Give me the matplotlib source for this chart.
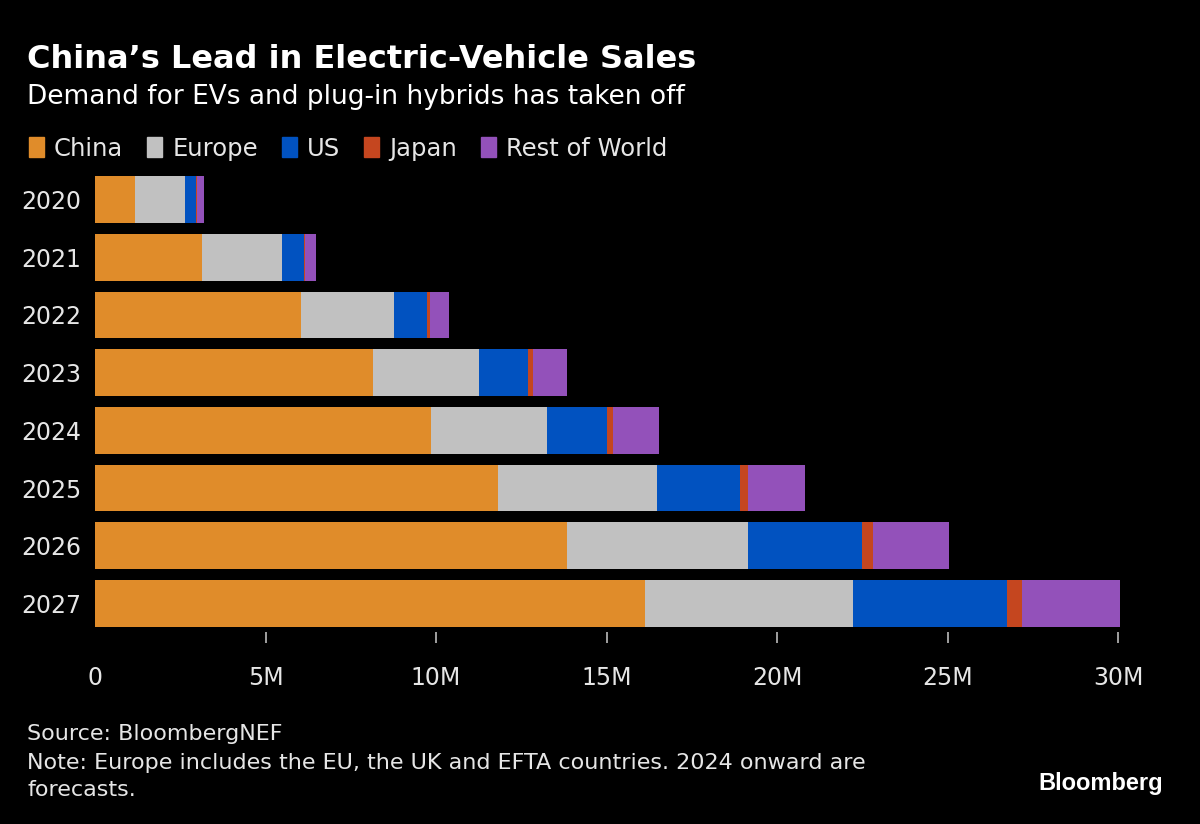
import matplotlib
matplotlib.use("Agg")
import matplotlib.pyplot as plt
from matplotlib.patches import Rectangle

# data (millions of vehicles)
years = ["2020", "2021", "2022", "2023", "2024", "2025", "2026", "2027"]
china = [1.17, 3.14, 6.04, 8.15, 9.85, 11.82, 13.84, 16.13]
europe = [1.47, 2.34, 2.73, 3.11, 3.40, 4.66, 5.31, 6.10]
us = [0.32, 0.65, 0.97, 1.44, 1.76, 2.43, 3.34, 4.51]
japan = [0.02, 0.03, 0.08, 0.14, 0.18, 0.24, 0.33, 0.44]
rest = [0.22, 0.32, 0.56, 1.00, 1.35, 1.67, 2.22, 2.88]

series = ["China", "Europe", "US", "Japan", "Rest of World"]
colors = ["#e08c2a", "#c1c1c1", "#0152c0", "#c5461f", "#9351ba"]
xticks = [0, 5, 10, 15, 20, 25, 30]
xlabels = ["0", "5M", "10M", "15M", "20M", "25M", "30M"]

plt.rcParams['font.family'] = ['DejaVu Sans']
fg = "#e6e6e6"

fig = plt.figure(figsize=(12, 8.24), dpi=100, facecolor="black")
W, H = 1200, 824
ax = fig.add_axes([95 / W, 1 - 632.4 / H, (1125 - 95) / W, (632.4 - 170.6) / H])
ax.set_facecolor("black")

y = list(range(len(years)))
left = [0] * len(years)
for name, vals, c in zip(series, [china, europe, us, japan, rest], colors):
    ax.barh(y, vals, left=left, height=0.81, color=c, label=name)
    left = [a + b for a, b in zip(left, vals)]

ax.set_xlim(0, 30 * (1125 - 95) / 1023)
ax.set_ylim(len(years) - 0.5, -0.5)
ax.set_yticks(y)
ax.set_yticklabels(years)
ax.set_xticks(xticks)
ax.set_xticklabels(xlabels)
for s in ax.spines.values():
    s.set_visible(False)
ax.tick_params(axis="y", length=0, pad=10, labelsize=17, labelcolor=fg)
ax.tick_params(axis="x", length=8, width=1.2, color="#bbbbbb", pad=16,
               labelsize=17, labelcolor=fg, direction="out")
ax.xaxis.get_major_ticks()[0].tick1line.set_visible(False)

# title and subtitle
fig.text(27 / W, 1 - 68 / H, "China\u2019s Lead in Electric-Vehicle Sales",
         color="white", fontsize=23, fontweight="bold")
fig.text(27 / W, 1 - 104 / H, "Demand for EVs and plug-in hybrids has taken off",
         color="white", fontsize=19)

# legend, laid out one item after the other
renderer = fig.canvas.get_renderer()
x = 29
for name, c in zip(series, colors):
    fig.patches.append(Rectangle((x / W, 1 - 157 / H), 15 / W, 20 / H,
                                 transform=fig.transFigure, color=c))
    t = fig.text((x + 25) / W, 1 - 156 / H, name, color=fg, fontsize=17.5,
                 va="baseline")
    x = t.get_window_extent(renderer).x1 + 24

# footer
fig.text(27 / W, 1 - 740 / H, "Source: BloombergNEF", color=fg, fontsize=16)
fig.text(27 / W, 1 - 769 / H,
         "Note: Europe includes the EU, the UK and EFTA countries. 2024 onward are",
         color=fg, fontsize=16)
fig.text(27 / W, 1 - 796 / H, "forecasts.", color=fg, fontsize=16)
fig.text(1163 / W, 1 - 790 / H, "Bloomberg", color="white", fontsize=17,
         fontweight="bold", ha="right", family=["Liberation Sans", "DejaVu Sans"])

fig.savefig("out.png", dpi=100, facecolor="black")
